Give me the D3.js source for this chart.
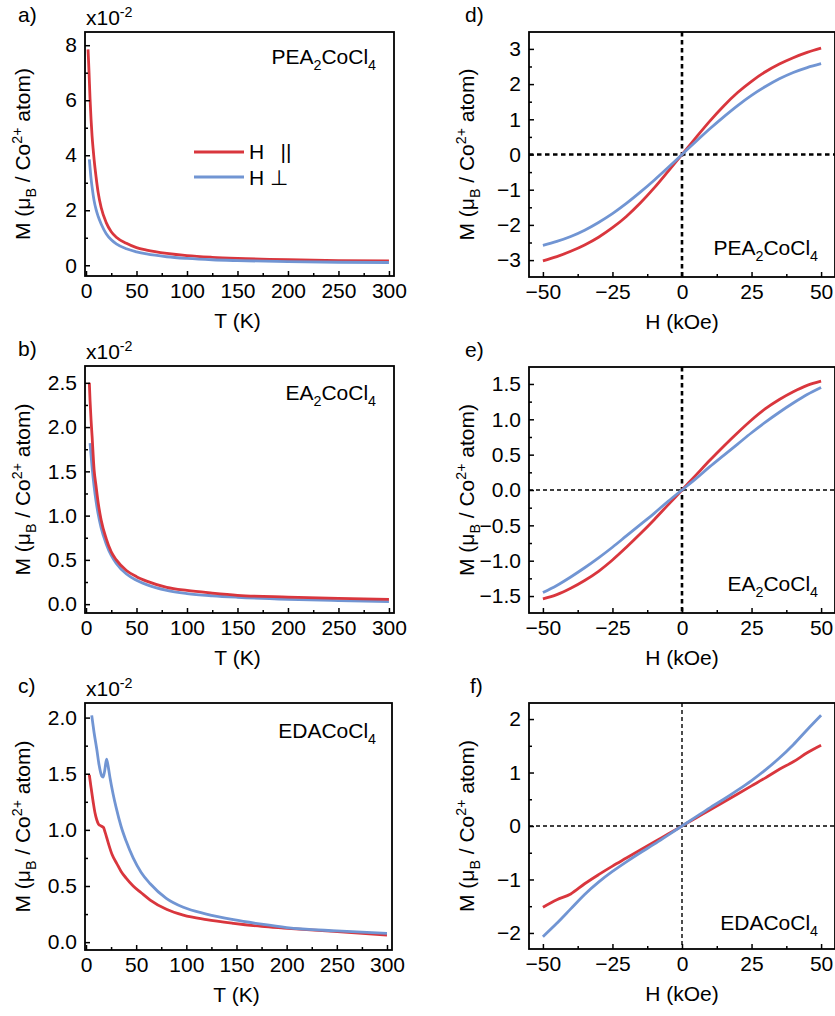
<!DOCTYPE html>
<html><head><meta charset="utf-8">
<script src="https://cdn.jsdelivr.net/npm/d3@7"></script>
<style>
body{margin:0;background:#fff;}
text{font-family:"Liberation Sans",Arial,sans-serif;fill:#000;}
</style>
</head><body>
<svg id="chart" width="835" height="1016"></svg>
<script>
// ---------------- DATA ----------------
// Panel a) PEA2CoCl4, M vs T (x10^-2)
const T_aR = [2, 2.5, 3, 4, 5, 6, 7, 8, 10, 12, 15, 20, 25, 30, 40, 50, 60, 80, 100, 125, 150, 200, 250, 300];
const M_aR = [7.85, 7.45, 7.0, 6.05, 5.3, 4.7, 4.25, 3.85, 3.2, 2.65, 2.1, 1.55, 1.22, 1.02, 0.8, 0.64, 0.55, 0.43, 0.35, 0.29, 0.25, 0.2, 0.17, 0.16];
const T_aB = [3.3, 4, 5, 6, 8, 10, 12, 15, 20, 25, 30, 40, 50, 60, 80, 100, 125, 150, 200, 250, 300];
const M_aB = [3.85, 3.55, 3.15, 2.85, 2.35, 2.02, 1.78, 1.5, 1.15, 0.93, 0.78, 0.6, 0.49, 0.41, 0.31, 0.25, 0.2, 0.17, 0.13, 0.11, 0.1];
// Panel b) EA2CoCl4
const T_bR = [3.3, 4, 5, 6, 8, 10, 12, 15, 20, 25, 30, 40, 50, 60, 80, 100, 125, 150, 200, 250, 300];
const M_bR = [2.5, 2.3, 2.08, 1.9, 1.52, 1.33, 1.15, 0.95, 0.74, 0.59, 0.5, 0.38, 0.31, 0.26, 0.19, 0.155, 0.125, 0.1, 0.08, 0.065, 0.055];
const T_bB = [4, 5, 6, 8, 10, 12, 15, 20, 25, 30, 40, 50, 60, 80, 100, 125, 150, 200, 250, 300];
const M_bB = [1.82, 1.68, 1.55, 1.33, 1.16, 1.02, 0.86, 0.68, 0.55, 0.46, 0.34, 0.27, 0.22, 0.155, 0.12, 0.095, 0.078, 0.055, 0.04, 0.028];
// Panel c) EDACoCl4
const T_cR = [3.3, 5, 7.3, 9, 10.7, 12.5, 14, 16, 17.5, 19, 20.7, 23, 26, 30.7, 35, 40, 47, 55, 64, 80.7, 97, 120, 147, 175, 197, 247, 300];
const M_cR = [1.49, 1.38, 1.24, 1.15, 1.09, 1.05, 1.04, 1.03, 1.02, 0.98, 0.93, 0.86, 0.78, 0.70, 0.63, 0.57, 0.5, 0.44, 0.375, 0.29, 0.24, 0.2, 0.167, 0.14, 0.125, 0.095, 0.062];
const T_cB = [5.7, 8, 10.7, 13, 15.7, 17, 18.5, 20.5, 22, 24, 27, 30, 35, 40, 47, 55, 64, 80, 97, 120, 147, 175, 200, 250, 300];
const M_cB = [2.02, 1.87, 1.72, 1.58, 1.48, 1.47, 1.52, 1.63, 1.57, 1.46, 1.32, 1.2, 1.03, 0.9, 0.75, 0.62, 0.52, 0.39, 0.31, 0.25, 0.2, 0.16, 0.13, 0.1, 0.078];
// Panels d-f: M vs H (kOe)
const H = [-50, -45, -40, -35, -30, -25, -20, -15, -10, -5, 0, 5, 10, 15, 20, 25, 30, 35, 40, 45, 50];
const M_dR = [-3.02, -2.9, -2.75, -2.57, -2.35, -2.08, -1.76, -1.38, -0.95, -0.48, 0, 0.48, 0.95, 1.38, 1.76, 2.08, 2.35, 2.57, 2.75, 2.9, 3.02];
const M_dB = [-2.58, -2.47, -2.33, -2.15, -1.93, -1.68, -1.39, -1.07, -0.73, -0.37, 0, 0.37, 0.73, 1.07, 1.39, 1.68, 1.93, 2.15, 2.33, 2.47, 2.58];
const M_eR = [-1.54, -1.48, -1.39, -1.28, -1.15, -0.99, -0.81, -0.62, -0.42, -0.21, 0, 0.21, 0.42, 0.62, 0.81, 0.99, 1.15, 1.28, 1.39, 1.48, 1.54];
const M_eB = [-1.45, -1.35, -1.23, -1.1, -0.96, -0.81, -0.65, -0.49, -0.33, -0.16, 0, 0.16, 0.33, 0.49, 0.65, 0.81, 0.96, 1.1, 1.23, 1.35, 1.45];
const M_fR = [-1.52, -1.38, -1.27, -1.08, -0.91, -0.75, -0.6, -0.45, -0.3, -0.15, 0, 0.15, 0.3, 0.45, 0.6, 0.75, 0.9, 1.06, 1.2, 1.37, 1.51];
const M_fB = [-2.07, -1.82, -1.55, -1.28, -1.05, -0.85, -0.67, -0.5, -0.34, -0.17, 0, 0.17, 0.34, 0.5, 0.67, 0.85, 1.05, 1.27, 1.52, 1.8, 2.07];

const T_ticks = [0, 50, 100, 150, 200, 250, 300];
const T_minor = [25, 75, 125, 175, 225, 275];
const H_ticks = [-50, -25, 0, 25, 50];
const H_minor = [-37.5, -12.5, 12.5, 37.5];
const legendLabels = ["H \u2002||", "H \u22A5"];

// ---------------- STYLE / LAYOUT ----------------
const RED = "#d9363d", BLUE = "#7195d3";
const FS = 21;
const svg = d3.select("#chart");

function rich(sel, parts, size) {
  let cur = 0;
  parts.forEach(p => {
    const ts = sel.append("tspan").text(p[0]);
    const target = p[1] === "sub" ? size * 0.3 : p[1] === "sup" ? -size * 0.4 : 0;
    if (target !== cur) ts.attr("dy", target - cur);
    if (p[1]) ts.attr("font-size", size * 0.68);
    cur = target;
  });
}

const panels = [
  {lab: "a)", kind: "T", box: [85, 32, 394, 276], xd: [-1, 305], yd: [-0.39, 8.48],
   yt: [0, 2, 4, 6, 8], ym: [1, 3, 5, 7], yf: d3.format("d"),
   series: [[T_aR, M_aR, RED], [T_aB, M_aB, BLUE]],
   sample: [["PEA"], ["2", "sub"], ["CoCl"], ["4", "sub"]], sy: 64, legend: true},
  {lab: "b)", kind: "T", box: [85, 366, 394, 613], xd: [-1, 305], yd: [-0.1, 2.69],
   yt: [0, 0.5, 1, 1.5, 2, 2.5], ym: [0.25, 0.75, 1.25, 1.75, 2.25], yf: d3.format(".1f"),
   series: [[T_bB, M_bB, BLUE], [T_bR, M_bR, RED]],
   sample: [["EA"], ["2", "sub"], ["CoCl"], ["4", "sub"]], sy: 400},
  {lab: "c)", kind: "T", box: [85, 703, 392, 950], xd: [-1, 305], yd: [-0.07, 2.13],
   yt: [0, 0.5, 1, 1.5, 2], ym: [0.25, 0.75, 1.25, 1.75], yf: d3.format(".1f"),
   series: [[T_cR, M_cR, RED], [T_cB, M_cB, BLUE]],
   sample: [["EDACoCl"], ["4", "sub"]], sy: 738},
  {lab: "d)", kind: "H", box: [529, 32, 835, 277], xd: [-55, 55], yd: [-3.48, 3.48],
   yt: [-3, -2, -1, 0, 1, 2, 3], ym: [-2.5, -1.5, -0.5, 0.5, 1.5, 2.5], yf: d3.format("d"),
   series: [[H, M_dR, RED], [H, M_dB, BLUE]], zv: 2.6, zh: 2.6,
   sample: [["PEA"], ["2", "sub"], ["CoCl"], ["4", "sub"]], sy: 255},
  {lab: "e)", kind: "H", box: [529, 367, 835, 613], xd: [-55, 55], yd: [-1.74, 1.74],
   yt: [-1.5, -1, -0.5, 0, 0.5, 1, 1.5], ym: [-1.25, -0.75, -0.25, 0.25, 0.75, 1.25], yf: d3.format(".1f"),
   series: [[H, M_eR, RED], [H, M_eB, BLUE]], zv: 2.6, zh: 1.4,
   sample: [["EA"], ["2", "sub"], ["CoCl"], ["4", "sub"]], sy: 591},
  {lab: "f)", kind: "H", box: [529, 703, 835, 949], xd: [-55, 55], yd: [-2.3, 2.3],
   yt: [-2, -1, 0, 1, 2], ym: [-1.5, -0.5, 0.5, 1.5], yf: d3.format("d"),
   series: [[H, M_fR, RED], [H, M_fB, BLUE]], zv: 1.4, zh: 1.4,
   sample: [["EDACoCl"], ["4", "sub"]], sy: 930}
];

panels.forEach((p, i) => {
  const [x0, y0, x1, y1] = p.box;
  const x = d3.scaleLinear().domain(p.xd).range([x0, x1]);
  const y = d3.scaleLinear().domain(p.yd).range([y1, y0]);
  const g = svg.append("g");

  const cid = "clip" + i;
  svg.append("clipPath").attr("id", cid).append("rect")
    .attr("x", x0).attr("y", y0).attr("width", x1 - x0).attr("height", y1 - y0);

  if (p.kind === "H") {
    g.append("line").attr("x1", x(0)).attr("x2", x(0)).attr("y1", y0).attr("y2", y1)
      .attr("stroke", "#000").attr("stroke-width", p.zv)
      .attr("stroke-dasharray", p.zv > 2 ? "4.5,3.5" : "4,3");
    g.append("line").attr("x1", x0).attr("x2", x1).attr("y1", y(0)).attr("y2", y(0))
      .attr("stroke", "#000").attr("stroke-width", p.zh)
      .attr("stroke-dasharray", p.zh > 2 ? "4.5,3.5" : "4,3");
  }

  const line = d3.line().x(d => x(d[0])).y(d => y(d[1])).curve(d3.curveMonotoneX);
  p.series.forEach(s => {
    const pts = s[0].map((v, k) => [v, s[1][k]]);
    g.append("path").attr("d", line(pts)).attr("fill", "none")
      .attr("stroke", s[2]).attr("stroke-width", 2.8)
      .attr("stroke-linejoin", "round").attr("stroke-linecap", "butt")
      .attr("clip-path", `url(#${cid})`);
  });

  const xt = p.kind === "T" ? T_ticks : H_ticks;
  const xm = p.kind === "T" ? T_minor : H_minor;
  const ax = g.append("g").attr("transform", `translate(0,${y1})`)
    .call(d3.axisBottom(x).tickValues(xt).tickSize(-5).tickPadding(7).tickFormat(d3.format("d")));
  const axm = g.append("g").attr("transform", `translate(0,${y1})`)
    .call(d3.axisBottom(x).tickValues(xm).tickSize(-3).tickFormat(""));
  const ay = g.append("g").attr("transform", `translate(${x0},0)`)
    .call(d3.axisLeft(y).tickValues(p.yt).tickSize(-5).tickPadding(8).tickFormat(p.yf));
  const aym = g.append("g").attr("transform", `translate(${x0},0)`)
    .call(d3.axisLeft(y).tickValues(p.ym).tickSize(-3).tickFormat(""));
  [ax, axm, ay, aym].forEach(a => {
    a.select(".domain").remove();
    a.attr("font-size", FS).attr("font-family", null);
    a.selectAll("line").attr("stroke", "#000").attr("stroke-width", 1.5);
  });

  g.append("rect").attr("x", x0).attr("y", y0).attr("width", x1 - x0).attr("height", y1 - y0)
    .attr("fill", "none").attr("stroke", "#000").attr("stroke-width", 1.8);

  svg.append("text").attr("x", p.kind === "T" ? 18 : (p.lab === "f)" ? 470 : 465))
    .attr("y", y0 - 10).attr("font-size", FS).text(p.lab);

  if (p.kind === "T") {
    const t = svg.append("text").attr("x", x0 + 1).attr("y", y0 - 7).attr("font-size", FS);
    rich(t, [["x10"], ["-2", "sup"]], FS);
  }

  const st = svg.append("text").attr("x", p.kind === "T" ? 376 : 818).attr("y", p.sy)
    .attr("text-anchor", "end").attr("font-size", FS);
  rich(st, p.sample, FS);

  svg.append("text").attr("x", (x0 + x1) / 2 - (p.kind === "T" ? 2 : 0)).attr("y", y1 + 52)
    .attr("text-anchor", "middle").attr("font-size", FS)
    .text(p.kind === "T" ? "T (K)" : "H (kOe)");
  const yt = svg.append("text").attr("text-anchor", "middle").attr("font-size", FS)
    .attr("transform", `translate(${x0 - 55},${(y0 + y1) / 2}) rotate(-90)`);
  rich(yt, [["M (\u03BC"], ["B", "sub"], [" / Co"], ["2+", "sup"], [" atom)"]], FS);

  if (p.legend) {
    [[RED, 152, 159], [BLUE, 177, 185]].forEach((L, k) => {
      svg.append("line").attr("x1", 194).attr("x2", 244).attr("y1", L[1]).attr("y2", L[1])
        .attr("stroke", L[0]).attr("stroke-width", 2.8);
      svg.append("text").attr("x", 249).attr("y", L[2]).attr("font-size", FS)
        .attr("xml:space", "preserve").text(legendLabels[k]);
    });
  }
});
</script>
</body></html>
